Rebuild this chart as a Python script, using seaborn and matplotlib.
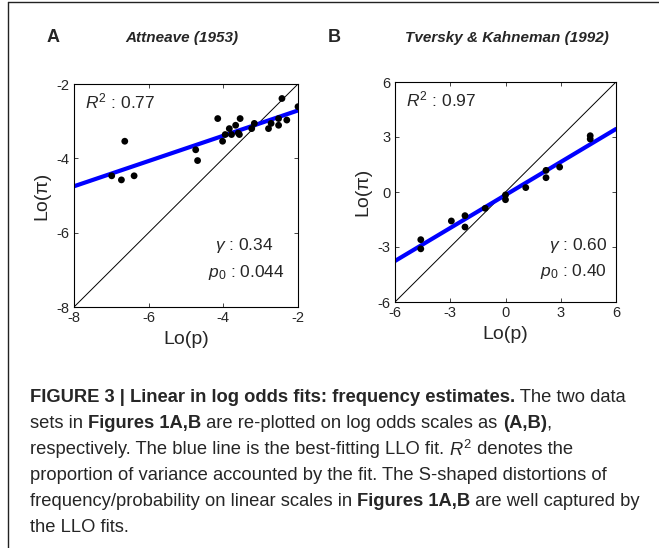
import numpy as np
import matplotlib
matplotlib.use("Agg")
import matplotlib.pyplot as plt
import seaborn as sns
from matplotlib import font_manager
from matplotlib.lines import Line2D

# Panel A: Attneave (1953)
lo_p_a = [-6.99, -6.73, -6.64, -6.39, -4.74, -4.69, -4.15, -4.02, -3.95, -3.84, -3.78,
          -3.67, -3.60, -3.57, -3.55, -3.24, -3.17, -2.79, -2.72, -2.52, -2.52, -2.43,
          -2.30, -2.00]
lo_pi_a = [-4.47, -4.58, -3.54, -4.47, -3.77, -4.06, -2.93, -3.54, -3.36, -3.20, -3.36,
           -3.11, -3.32, -3.36, -2.93, -3.20, -3.06, -3.20, -3.06, -3.11, -2.93, -2.39,
           -2.97, -2.61]
gamma_a, p0_a, r2_a = 0.34, 0.044, 0.77

# Panel B: Tversky & Kahneman (1992)
lo_p_b = [-4.60, -4.60, -2.94, -2.20, -2.20, -1.10, 0.0, 0.0, 1.10, 2.20, 2.20, 2.94, 4.60, 4.60]
lo_pi_b = [-2.60, -3.10, -1.58, -1.29, -1.91, -0.89, -0.16, -0.42, 0.24, 0.78, 1.18, 1.36, 3.07, 2.89]
gamma_b, p0_b, r2_b = 0.60, 0.40, 0.97

ticks_a = [-8, -6, -4, -2]
ticks_b = [-6, -3, 0, 3, 6]

sns.set_style("white")
plt.rcParams['font.family'] = ['Liberation Sans', 'DejaVu Sans']
plt.rcParams['axes.unicode_minus'] = False
plt.rcParams['mathtext.fontset'] = 'custom'
plt.rcParams['mathtext.rm'] = 'Liberation Sans'
plt.rcParams['mathtext.it'] = 'Liberation Sans:italic'

installed = {f.name for f in font_manager.fontManager.ttflist}
cap_font = 'Liberation Sans Narrow' if 'Liberation Sans Narrow' in installed else 'Liberation Sans'

fig = plt.figure(figsize=(6.59, 5.48), dpi=100)
W, H = 659, 548


def px_axes(x0, y0, x1, y1):
    return fig.add_axes([x0 / W, 1 - y1 / H, (x1 - x0) / W, (y1 - y0) / H])


def llo(x, gamma, p0):
    return gamma * x + (1 - gamma) * np.log(p0 / (1 - p0))


def panel(ax, xs, ys, gamma, p0, r2, ticks, gx):
    lo, hi = ticks[0], ticks[-1]
    ax.plot([lo, hi], [lo, hi], color='black', lw=0.7, zorder=1)
    line_x = np.array([lo, hi])
    sns.lineplot(x=line_x, y=llo(line_x, gamma, p0), ax=ax, color='#0000ff', lw=3, zorder=2)
    sns.scatterplot(x=xs, y=ys, ax=ax, color='black', s=24, edgecolor='none', zorder=3)
    ax.set_xlim(lo, hi)
    ax.set_ylim(lo, hi)
    ax.set_xticks(ticks)
    ax.set_yticks(ticks)
    ax.tick_params(direction='in', length=3, width=0.6, labelsize=10.5, pad=3,
                   top=True, right=True, bottom=True, left=True)
    for s in ax.spines.values():
        s.set_color('black')
        s.set_linewidth(0.8)
    ax.set_xlabel('Lo(p)', fontsize=14, labelpad=4)
    ax.set_ylabel('Lo(π)', fontsize=14, labelpad=5)
    ax.text(0.05, 0.92, '$R^2$ : %.2f' % r2, transform=ax.transAxes, fontsize=12.5, va='center')
    ax.text(gx, 0.275, r'$\gamma$ : %.2f' % gamma, transform=ax.transAxes, fontsize=12.5,
            va='center', ha='right')
    p0_txt = ('%.3f' % p0) if p0 < 0.1 else ('%.2f' % p0)
    ax.text(0.94, 0.155, '$p_0$ : ' + p0_txt, transform=ax.transAxes, fontsize=12.5,
            va='center', ha='right')


ax_a = px_axes(74, 84, 298, 307)
panel(ax_a, lo_p_a, lo_pi_a, gamma_a, p0_a, r2_a, ticks_a, 0.89)
ax_b = px_axes(395, 82, 616, 302)
panel(ax_b, lo_p_b, lo_pi_b, gamma_b, p0_b, r2_b, ticks_b, 0.96)
ax_b.texts[-1].set_position((0.96, 0.14))
ax_b.texts[-2].set_position((0.96, 0.255))

# panel letters and titles
fig.text(47 / W, 1 - 38 / H, 'A', fontsize=13, weight='bold', va='center')
fig.text(182 / W, 1 - 38 / H, 'Attneave (1953)', fontsize=11, weight='bold', style='italic',
         va='center', ha='center')
fig.text(328 / W, 1 - 38 / H, 'B', fontsize=13, weight='bold', va='center')
fig.text(507 / W, 1 - 38 / H, 'Tversky & Kahneman (1992)', fontsize=11, weight='bold',
         style='italic', va='center', ha='center')

# frame
fig.add_artist(Line2D([8 / W, 8 / W], [0, 1 - 1.5 / H], color='#222222', lw=1))
fig.add_artist(Line2D([8 / W, 1], [1 - 1.5 / H, 1 - 1.5 / H], color='#222222', lw=1))

# caption
caption = [
    [("FIGURE 3 | Linear in log odds fits: frequency estimates.", 'bold', 'normal'),
     (" The two data", 'normal', 'normal')],
    [("sets in ", 'normal', 'normal'), ("Figures 1A,B", 'bold', 'normal'),
     (" are re-plotted on log odds scales as ", 'normal', 'normal'), ("(A,B)", 'bold', 'normal'),
     (",", 'normal', 'normal')],
    [("respectively. The blue line is the best-fitting LLO fit. ", 'normal', 'normal'),
     ("$R^2$", 'normal', 'italic'), (" denotes the", 'normal', 'normal')],
    [("proportion of variance accounted by the fit. The S-shaped distortions of", 'normal', 'normal')],
    [("frequency/probability on linear scales in ", 'normal', 'normal'),
     ("Figures 1A,B", 'bold', 'normal'), (" are well captured by", 'normal', 'normal')],
    [("the LLO fits.", 'normal', 'normal')],
]
cap_size = 12.5 if cap_font != 'Liberation Sans' else 13.2
line_y = [398, 424, 450, 476, 502, 528]
fig.canvas.draw()
renderer = fig.canvas.get_renderer()
for segs, yy in zip(caption, line_y):
    x = 30.0
    for txt, wt, st in segs:
        t = fig.text(x / W, 1 - yy / H, txt, fontsize=cap_size, weight=wt, style=st,
                     family=[cap_font, 'DejaVu Sans'], va='center', ha='left')
        bb = t.get_window_extent(renderer=renderer)
        x += bb.width

fig.savefig('out.png', dpi=100)
